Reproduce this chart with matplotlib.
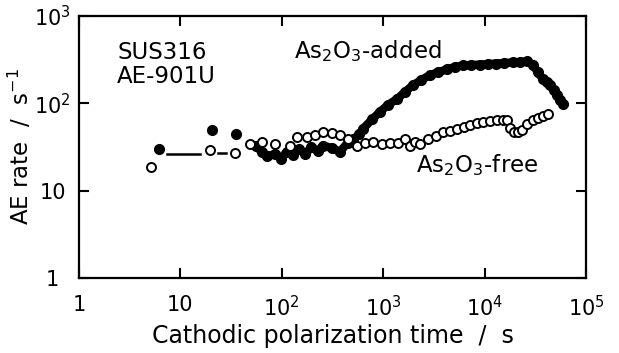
"""
AE rate vs cathodic polarization time - SUS316, AE-901U
"""

import matplotlib.pyplot as plt
from matplotlib.ticker import NullLocator

# As2O3-free (open circles)
free_t = [5.1, 19.6, 34.5, 48.6, 63.8, 85.7, 120, 141, 177, 213, 255, 312, 375, 450,
          552, 662, 793, 973, 1167, 1400, 1640, 1838, 2060, 2306, 2766, 3318, 3890,
          4560, 5346, 6268, 7180, 8420, 9640, 11300, 13250, 15200, 16600, 17800,
          19500, 21300, 23400, 26200, 30000, 33600, 37700, 42200]
free_r = [18.5, 28.9, 26.7, 33.8, 36.5, 34.7, 32.1, 41.6, 41.6, 43.9, 47.4, 46.2, 43.9,
          38.6, 32.1, 35.6, 36.5, 34.7, 35.6, 35.6, 39.5, 32.1, 36.5, 34.7, 39.5,
          42.8, 47.4, 48.7, 51.3, 54.0, 56.9, 60.0, 61.5, 63.2, 64.9, 64.9, 64.9,
          52.6, 47.4, 47.4, 50.0, 58.4, 64.9, 68.4, 72.0, 75.8]

# As2O3-added (filled circles)
added_t = [6.1, 20.5, 35.5, 55.5, 63.8, 70.7, 85.7, 98, 112, 129, 148, 170, 195,
           228, 255, 312, 375, 450, 507, 580, 634, 778, 930, 1120, 1370, 1640, 1970,
           2370, 2880, 3460, 4230, 5080, 6100, 7330, 8950, 10800, 13000, 15600,
           19000, 22300, 26200, 30000, 33600, 37700, 41300, 44000, 48300, 51300,
           55300, 59000]
added_r = [29.7, 49, 45, 32.1, 28.0, 24.7, 26.3, 23.3, 28.0, 25.3, 30.1, 26.3, 31.3,
           28.7, 32.9, 30.8, 28.0, 35.6, 38.6, 44.0, 51.3, 65.5, 80, 96.5, 112,
           135, 162, 185, 210, 227, 245, 260, 272, 275, 278, 282, 286, 290, 294,
           298, 302, 278, 226, 189, 174, 162, 142, 124, 108, 98]

# short connector marks between the early points
conn_t = [7.4, 15.6]
conn_r = [26.0, 26.0]
dash_t = [23.5, 28.2]
dash_r = [26.7, 26.7]

x_ticks = [1, 10, 100, 1000, 10000, 100000]
x_labels = ["1", "10", "$10^2$", "$10^3$", "$10^4$", "$10^5$"]
y_ticks = [1, 10, 100, 1000]
y_labels = ["1", "10", "$10^2$", "$10^3$"]


fig = plt.figure(figsize=(6.19, 3.53), dpi=100)
ax = fig.add_axes([0.1276, 0.2125, 0.819, 0.742])

ax.plot(conn_t, conn_r, color="black", linewidth=1.8)
ax.plot(dash_t, dash_r, color="black", linewidth=1.8)

ax.plot(added_t[3:], added_r[3:], color="black", linewidth=6.0,
        solid_capstyle="round", solid_joinstyle="round")
ax.plot(added_t, added_r, "o", color="black", markersize=7)
ax.plot(free_t, free_r, "o", markerfacecolor="white", markeredgecolor="black",
        markersize=6.5, markeredgewidth=1.4)

ax.set_xscale("log")
ax.set_yscale("log")
ax.set_xlim(1, 1e5)
ax.set_ylim(1, 1e3)
ax.set_xticks(x_ticks)
ax.set_xticklabels(x_labels)
ax.set_yticks(y_ticks)
ax.set_yticklabels(y_labels, ha="center")
ax.xaxis.set_minor_locator(NullLocator())
ax.yaxis.set_minor_locator(NullLocator())

ax.tick_params(axis="both", which="major", direction="in", length=7, width=1.5,
               top=True, right=True, labelsize=15)
ax.tick_params(axis="x", pad=12)
ax.tick_params(axis="y", pad=19)
for s in ax.spines.values():
    s.set_linewidth(1.6)

ax.set_xlabel("Cathodic polarization time  /  s", fontsize=17, labelpad=3)
ax.set_ylabel("AE rate  /  s$^{-1}$", fontsize=16.5, labelpad=0)

ax.text(0.075, 0.815, "SUS316\nAE-901U", transform=ax.transAxes, fontsize=16.5,
        va="center", ha="left", multialignment="left", linespacing=1.1)
ax.text(0.425, 0.865, "As$_2$O$_3$-added", transform=ax.transAxes, fontsize=16.5,
        va="center", ha="left")
ax.text(0.665, 0.43, "As$_2$O$_3$-free", transform=ax.transAxes, fontsize=16.5,
        va="center", ha="left")

plt.savefig("out.png", dpi=100)
